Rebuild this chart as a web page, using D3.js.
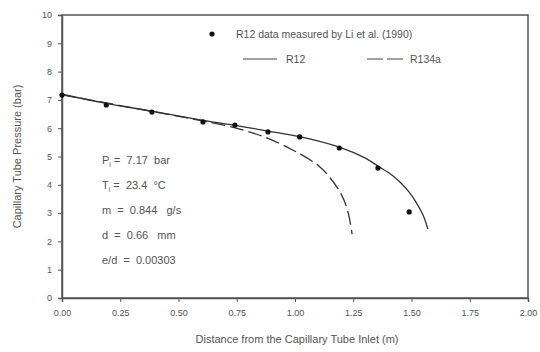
<!DOCTYPE html>
<html>
<head>
<meta charset="utf-8">
<script src="https://cdn.jsdelivr.net/npm/d3@7"></script>
<style>
body { margin: 0; background: #fff; }
text { font-family: "Liberation Sans", Arial, sans-serif; fill: #555; white-space: pre; }
</style>
</head>
<body>
<script>
// measured R12 data (Li et al. 1990)
var measX = [0.0, 0.19, 0.386, 0.605, 0.742, 0.884, 1.02, 1.19, 1.356, 1.49];
var measY = [7.17, 6.82, 6.57, 6.22, 6.11, 5.87, 5.69, 5.30, 4.59, 3.04];

// R12 predicted curve
var r12X = [0.0, 0.19, 0.386, 0.605, 0.742, 0.884, 1.02, 1.19, 1.3, 1.356, 1.41, 1.45, 1.49, 1.52, 1.55, 1.57];
var r12Y = [7.2, 6.88, 6.6, 6.28, 6.1, 5.9, 5.7, 5.33, 4.95, 4.66, 4.38, 4.1, 3.74, 3.38, 2.92, 2.44];

// R134a predicted curve
var r134X = [0.0, 0.25, 0.5, 0.7, 0.8, 0.884, 0.99, 1.107, 1.18, 1.21, 1.23, 1.245];
var r134Y = [7.18, 6.8, 6.42, 6.1, 5.88, 5.64, 5.23, 4.63, 3.92, 3.46, 2.95, 2.26];

var xTicks = [0, 0.25, 0.5, 0.75, 1.0, 1.25, 1.5, 1.75, 2.0];
var yTicks = [0, 1, 2, 3, 4, 5, 6, 7, 8, 9, 10];

var notes = ["P|i| =  7.17  bar", "T|i| =  23.4  °C", "m  =  0.844   g/s", "d  =  0.66   mm", "e/d  =  0.00303"];

var width = 540, height = 352;
var margin = {left: 62, right: 12, top: 15, bottom: 54};

var svg = d3.select("body").append("svg")
    .attr("width", width)
    .attr("height", height);

var x = d3.scaleLinear().domain([0, 2]).range([margin.left, width - margin.right]);
var y = d3.scaleLinear().domain([0, 10]).range([height - margin.bottom, margin.top]);

// frame
svg.append("rect")
    .attr("x", x(0)).attr("y", y(10))
    .attr("width", x(2) - x(0)).attr("height", y(0) - y(10))
    .attr("fill", "none").attr("stroke", "#555").attr("stroke-width", 1.5);

var xAxis = svg.append("g")
    .attr("transform", "translate(0," + y(0) + ")")
    .call(d3.axisBottom(x).tickValues(xTicks).tickFormat(d3.format(".2f")).tickSize(4).tickPadding(8));
var yAxis = svg.append("g")
    .attr("transform", "translate(" + x(0) + ",0)")
    .call(d3.axisLeft(y).tickValues(yTicks).tickSize(4).tickPadding(6));

[xAxis, yAxis].forEach(function(a){
    a.select(".domain").attr("stroke", "#555").attr("stroke-width", 1.5);
    a.selectAll(".tick line").attr("stroke", "#555");
    a.selectAll("text").attr("font-size", 9).attr("fill", "#666")
        .attr("font-family", "Liberation Sans, Arial, sans-serif");
});

// axis titles
svg.append("text")
    .attr("x", (x(0) + x(2)) / 2 + 2).attr("y", 343)
    .attr("text-anchor", "middle").attr("font-size", 11)
    .text("Distance from the Capillary Tube Inlet (m)");
svg.append("text")
    .attr("transform", "translate(21," + ((y(0) + y(10)) / 2) + ") rotate(-90)")
    .attr("text-anchor", "middle").attr("font-size", 11)
    .text("Capillary Tube Pressure (bar)");

var line = d3.line().curve(d3.curveCatmullRom)
    .x(function(d){ return x(d[0]); })
    .y(function(d){ return y(d[1]); });

svg.append("path")
    .datum(d3.zip(r12X, r12Y))
    .attr("d", line)
    .attr("fill", "none").attr("stroke", "#333").attr("stroke-width", 1.3);

svg.append("path")
    .datum(d3.zip(r134X, r134Y))
    .attr("d", line)
    .attr("fill", "none").attr("stroke", "#333").attr("stroke-width", 1.3)
    .attr("stroke-dasharray", "14,5");

svg.selectAll(".pt")
    .data(d3.zip(measX, measY))
    .enter().append("circle")
    .attr("class", "pt")
    .attr("cx", function(d){ return x(d[0]); })
    .attr("cy", function(d){ return y(d[1]); })
    .attr("r", 2.6)
    .attr("fill", "#111");

// legend
svg.append("circle").attr("cx", 212).attr("cy", 34).attr("r", 2.6).attr("fill", "#111");
svg.append("text").attr("x", 236).attr("y", 38).attr("font-size", 10.5)
    .text("R12 data measured by Li et al. (1990)");
svg.append("line").attr("x1", 243).attr("x2", 277).attr("y1", 59).attr("y2", 59)
    .attr("stroke", "#444").attr("stroke-width", 1.2);
svg.append("text").attr("x", 286).attr("y", 63).attr("font-size", 10.5).text("R12");
svg.append("line").attr("x1", 367).attr("x2", 405).attr("y1", 59).attr("y2", 59)
    .attr("stroke", "#444").attr("stroke-width", 1.2).attr("stroke-dasharray", "16,4");
svg.append("text").attr("x", 410).attr("y", 63).attr("font-size", 10.5).text("R134a");

// conditions text
notes.forEach(function(n, i){
    var t = svg.append("text").attr("x", 102).attr("y", 164 + i * 25).attr("font-size", 11);
    var parts = n.split("|");
    t.append("tspan").text(parts[0]);
    if (parts.length > 1) {
        t.append("tspan").attr("dy", 3).attr("font-size", 7).text(parts[1]);
        t.append("tspan").attr("dy", -3).text(parts[2]);
    }
});
</script>
</body>
</html>
